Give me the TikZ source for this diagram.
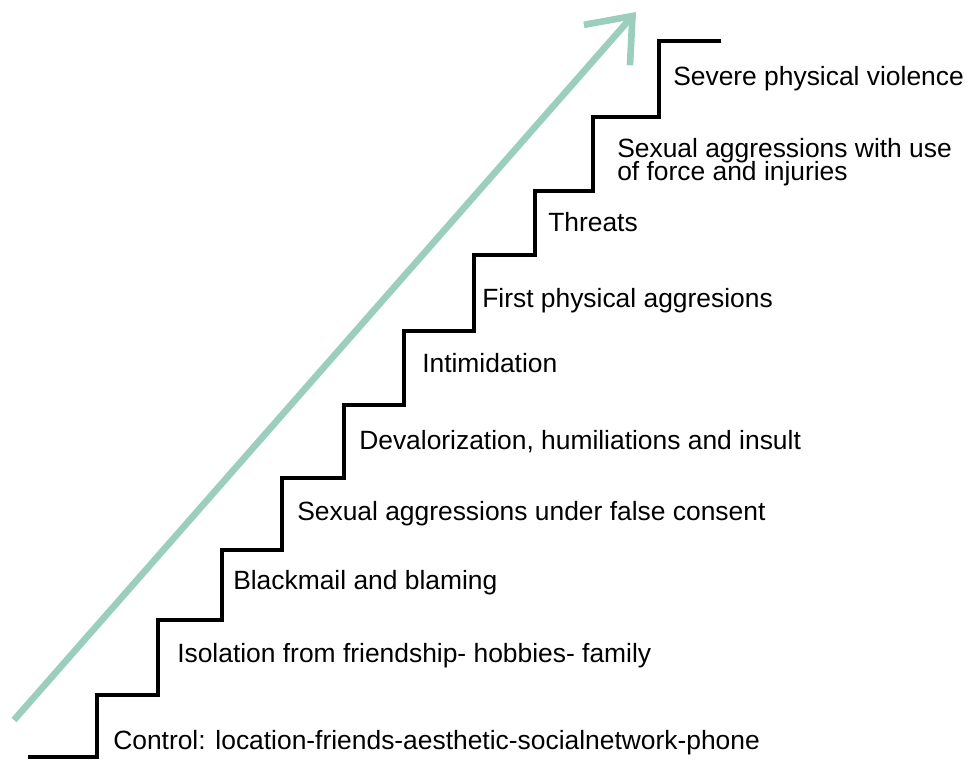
\documentclass[tikz,border=0pt]{standalone}
\usepackage{fontspec}
\setmainfont{Liberation Sans}
\usetikzlibrary{arrows.meta}

\definecolor{stepgreen}{RGB}{156,206,190}

\tikzset{
	stairline/.style={black, line width=3.5pt, line join=miter, line cap=butt},
	riseline/.style={stepgreen, line width=5pt, line join=miter, -{Straight Barb[length=29pt, width=46pt, line join=miter]}},
	steplabel/.style={anchor=base west, inner sep=0pt, font=\fontsize{19.8}{18}\selectfont, align=left}
}

\begin{document}
\begin{tikzpicture}[x=0.75pt, y=-0.75pt]

		\useasboundingbox (0, 0) rectangle (970, 760);

		\coordinate (risestart) at ( 14, 720 );
		\coordinate (risetip) at ( 636, 12 );
		\draw[riseline] (risestart) -- (risetip);

		\draw[stairline] ( 28, 757 ) -- ( 97, 757 ) -- ( 97, 695 ) -- ( 158, 695 ) -- ( 158, 620 )
			-- ( 222, 620 ) -- ( 222, 550 ) -- ( 282, 550 ) -- ( 282, 478 ) -- ( 344, 478 )
			-- ( 344, 405 ) -- ( 404, 405 ) -- ( 404, 331 ) -- ( 474, 331 ) -- ( 474, 255 )
			-- ( 535, 255 ) -- ( 535, 191 ) -- ( 593, 191 ) -- ( 593, 117 ) -- ( 659, 117 )
			-- ( 659, 41 ) -- ( 721, 41 );

		\node[steplabel, at={( 113, 749 )}] (control) {Control: location-friends-aesthetic-socialnetwork-phone};
		\node[steplabel, at={( 177, 662 )}] (isolation) {Isolation from friendship- hobbies- family};
		\node[steplabel, at={( 233, 589 )}] (blackmail) {Blackmail and blaming};
		\node[steplabel, at={( 297, 520 )}] (falseconsent) {Sexual aggressions under false consent};
		\node[steplabel, at={( 359, 449 )}] (devalorization) {Devalorization, humiliations and insult};
		\node[steplabel, at={( 422, 372 )}] (intimidation) {Intimidation};
		\node[steplabel, at={( 482, 307 )}] (firstphysical) {First physical aggresions};
		\node[steplabel, at={( 548, 231 )}] (threats) {Threats};
		\node[steplabel, at={( 617, 180 )}] (useforce) {Sexual aggressions with use\\[-2.25pt]of force and injuries};
		\node[steplabel, at={( 673, 85 )}] (severe) {Severe physical violence};

	\end{tikzpicture}
\end{document}
